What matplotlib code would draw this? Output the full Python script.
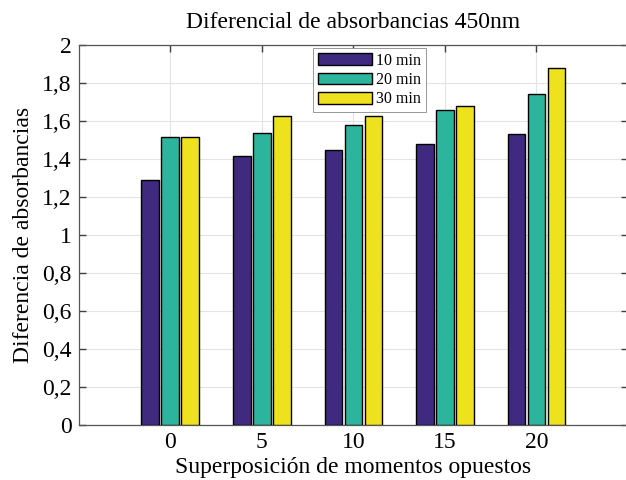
import matplotlib.pyplot as plt
import numpy as np

plt.rcParams['font.family'] = ['Liberation Serif', 'DejaVu Serif']

# Data
superposicion = [0, 5, 10, 15, 20]
abs_10min = [1.29, 1.416, 1.446, 1.479, 1.53]
abs_20min = [1.517, 1.533, 1.577, 1.659, 1.74]
abs_30min = [1.517, 1.623, 1.623, 1.677, 1.875]
series_labels = ['10 min', '20 min', '30 min']
colors = ['#3F2A7F', '#2DB49C', '#EEE21F']
yticks = [0, 0.2, 0.4, 0.6, 0.8, 1.0, 1.2, 1.4, 1.6, 1.8, 2.0]

fig = plt.figure(figsize=(6.26, 4.8), dpi=100)
ax = fig.add_axes([0.1257, 0.1146, 0.8775, 0.7923])

x = np.array(superposicion, dtype=float)
offset = 1.09
width = 0.96
for i, (vals, lab, col) in enumerate(zip([abs_10min, abs_20min, abs_30min], series_labels, colors)):
    ax.bar(x + (i - 1) * offset, vals, width=width, color=col, edgecolor='black',
           linewidth=1.0, label=lab, zorder=3)

ax.set_xlim(-5, 25)
ax.set_ylim(0, 2)
ax.set_xticks(superposicion)
ax.set_yticks(yticks)
ax.set_yticklabels([('%g' % v).replace('.', ',') for v in yticks])

ax.grid(True, color='#E3E3E3', linewidth=0.8, zorder=0)
ax.set_axisbelow(True)
ax.tick_params(direction='in', top=True, right=True, length=5, width=1.0,
               labelsize=17, colors='#404040', labelcolor='black', pad=5)
for s in ax.spines.values():
    s.set_color('#555555')
    s.set_linewidth(0.9)

ax.set_title('Diferencial de absorbancias 450nm', fontsize=17, pad=12)
ax.set_xlabel('Superposición de momentos opuestos', fontsize=17, labelpad=3)
ax.set_ylabel('Diferencia de absorbancias', fontsize=17, labelpad=6)

leg = ax.legend(loc='upper left', bbox_to_anchor=(0.427, 0.991), fontsize=11.5,
                fancybox=False, framealpha=1, edgecolor='#888888',
                handlelength=3.4, handleheight=0.75, handletextpad=0.25,
                labelspacing=0.2, borderpad=0.3, borderaxespad=0)
leg.get_frame().set_linewidth(0.6)

fig.savefig('out.png', dpi=100)
